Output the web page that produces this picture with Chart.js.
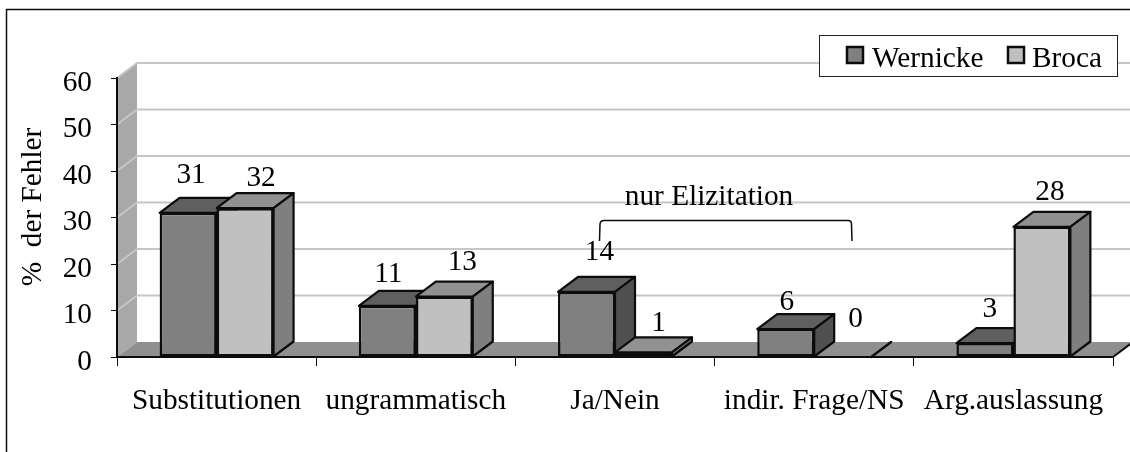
<!DOCTYPE html>
<html>
<head>
<meta charset="utf-8">
<style>html,body{margin:0;padding:0;background:#fff}canvas{display:block}</style>
<script src="https://cdn.jsdelivr.net/npm/chart.js@4"></script>
</head>
<body>
<canvas id="c" width="1130" height="452"></canvas>
<script>
const categories = ["Substitutionen","ungrammatisch","Ja/Nein","indir. Frage/NS","Arg.auslassung"];
const wernicke = [31,11,14,6,3];
const broca = [32,13,1,0,28];
const FONT = '"Liberation Serif","Times New Roman",serif';
const FS = 29.3;
const DX = 20, DY = 15;
const labelShift = [
  [[3,-38],[1,-32],[13,-40],[1,-27],[5,-34]],
  [[16,-30],[18,-34],[15,-29],[13,-38],[8,-34]]
];
const faceColors = [{top:'#5f5f5f',side:'#505050'},{top:'#919191',side:'#7f7f7f'}];
const INK = '#0c0c0c';

function poly(ctx, pts, fill, stroke, lw){
  ctx.beginPath();
  pts.forEach((p,i)=> i ? ctx.lineTo(p[0],p[1]) : ctx.moveTo(p[0],p[1]));
  ctx.closePath();
  if(fill){ctx.fillStyle=fill;ctx.fill();}
  if(stroke){ctx.strokeStyle=stroke;ctx.lineWidth=lw;ctx.lineJoin='round';ctx.stroke();}
}
const scene = {
  id:'scene',
  beforeDraw(chart){
    const {ctx,chartArea:a,scales:{y}} = chart;
    const W = chart.width;
    ctx.save();
    ctx.fillStyle='#fff';ctx.fillRect(0,0,W,chart.height);
    // outer frame
    ctx.strokeStyle=INK;ctx.lineWidth=1.5;
    ctx.beginPath();ctx.moveTo(6.5,452);ctx.lineTo(6.5,9.5);ctx.lineTo(W,9.5);ctx.stroke();
    // side wall
    poly(ctx,[[a.left,a.bottom],[a.left+DX,a.bottom-DY],[a.left+DX,a.top-DY],[a.left,a.top]],'#a8a8a8');
    // floor
    poly(ctx,[[a.left,a.bottom],[a.left+DX,a.bottom-DY],[a.right+DX,a.bottom-DY],[a.right,a.bottom]],'#8f8f8f');
    ctx.strokeStyle=INK;ctx.lineWidth=2;
    ctx.beginPath();ctx.moveTo(a.right,a.bottom);ctx.lineTo(a.right+DX,a.bottom-DY);ctx.stroke();
    // grid on the walls
    ctx.strokeStyle='#c6c6c6';ctx.lineWidth=2;
    y.ticks.forEach(t=>{
      const p=y.getPixelForValue(t.value);
      if(t.value===0) return;
      ctx.beginPath();ctx.moveTo(a.left,p);ctx.lineTo(a.left+DX,p-DY);ctx.lineTo(W,p-DY);ctx.stroke();
    });
    ctx.restore();
  },
  beforeDatasetsDraw(chart){
    const {ctx} = chart;
    ctx.save();
    chart.data.datasets.forEach((ds,di)=>{
      chart.getDatasetMeta(di).data.forEach((bar,i)=>{
        const {x,y,base,width}=bar.getProps(['x','y','base','width'],true);
        const l=x-width/2,r=x+width/2,c=faceColors[di];
        if(ds.data[i]>0) poly(ctx,[[l,y],[l+DX,y-DY],[r+DX,y-DY],[r,y]],c.top,INK,2.2);
        poly(ctx,[[r,y],[r+DX,y-DY],[r+DX,base-DY],[r,base]],ds.data[i]>0?c.side:null,INK,2.2);
      });
    });
    ctx.restore();
  },
  afterDraw(chart){
    const {ctx}=chart;
    ctx.save();
    ctx.fillStyle='#000';
    ctx.font=FS+'px '+FONT;
    ctx.textAlign='center';ctx.textBaseline='middle';
    chart.data.datasets.forEach((ds,di)=>{
      chart.getDatasetMeta(di).data.forEach((bar,i)=>{
        const s=labelShift[di][i];
        ctx.fillText(String(ds.data[i]),bar.x+s[0],bar.y+s[1]);
      });
    });
    // annotation
    ctx.fillText('nur Elizitation',709,197);
    ctx.strokeStyle=INK;ctx.lineWidth=1.5;
    ctx.beginPath();
    ctx.moveTo(599.5,241);ctx.lineTo(600,224);ctx.quadraticCurveTo(600.5,220.5,604,220.5);
    ctx.lineTo(848,220.5);ctx.quadraticCurveTo(851.5,220.5,851.5,224);ctx.lineTo(852,241);
    ctx.stroke();
    // y title
    ctx.save();
    ctx.translate(33,207);ctx.rotate(-Math.PI/2);
    ctx.fillText('%  der Fehler',0,0);
    ctx.restore();
    // legend
    ctx.fillStyle='#fff';ctx.fillRect(819.5,35.5,298,41);
    ctx.strokeStyle='#222';ctx.lineWidth=1;ctx.strokeRect(819.5,35.5,298,41);
    const lx=[[847,872],[1008,1032]];
    chart.data.datasets.forEach((ds,di)=>{
      ctx.fillStyle=ds.backgroundColor;ctx.strokeStyle=INK;ctx.lineWidth=2.5;
      ctx.fillRect(lx[di][0],47,16,16);ctx.strokeRect(lx[di][0],47,16,16);
      ctx.fillStyle='#000';ctx.textAlign='left';
      ctx.fillText(ds.label,lx[di][1],59);
    });
    ctx.restore();
  }
};
new Chart(document.getElementById('c'),{
  type:'bar',
  data:{labels:categories,datasets:[
    {label:'Wernicke',data:wernicke,backgroundColor:'#808080',borderColor:INK,borderWidth:2.5,borderSkipped:false,categoryPercentage:0.572,barPercentage:1},
    {label:'Broca',data:broca,backgroundColor:'#c0c0c0',borderColor:INK,borderWidth:2.5,borderSkipped:false,categoryPercentage:0.572,barPercentage:1}
  ]},
  plugins:[scene],
  options:{
    responsive:false,animation:false,
    layout:{autoPadding:false,padding:{left:0,top:78,right:17,bottom:0}},
    plugins:{legend:{display:false},tooltip:{enabled:false}},
    scales:{
      x:{
        afterFit(s){s.height=95;},
        grid:{display:true,drawOnChartArea:false,drawTicks:true,tickLength:9,color:INK,lineWidth:1},
        border:{display:true,color:INK,width:2},
        ticks:{color:'#000',font:{family:FONT,size:FS},padding:18,maxRotation:0,autoSkip:false}
      },
      y:{
        min:0,max:60,
        afterFit(s){s.width=117;},
        grid:{display:true,drawOnChartArea:false,drawTicks:true,tickLength:6,color:INK,lineWidth:1},
        border:{display:true,color:INK,width:2},
        ticks:{color:'#000',stepSize:10,font:{family:FONT,size:FS},padding:19,labelOffset:5}
      }
    }
  }
});
</script>
</body>
</html>
